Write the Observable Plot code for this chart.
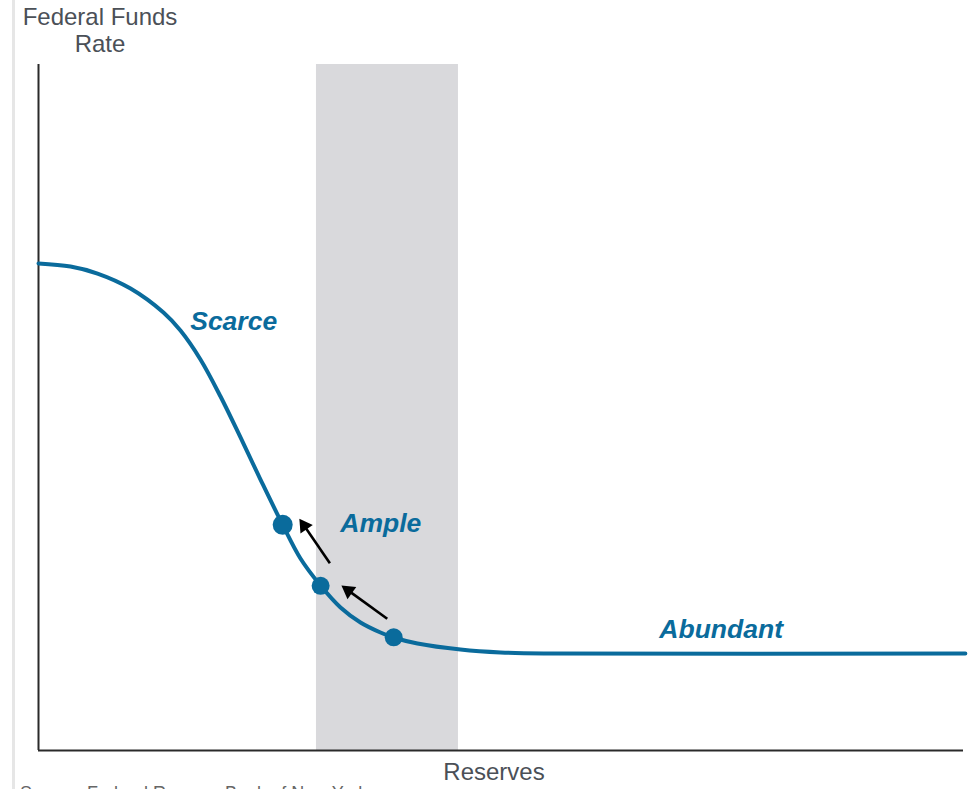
<!DOCTYPE html>
<html>
<head>
<meta charset="utf-8">
<script src="https://cdn.jsdelivr.net/npm/d3@7"></script>
<script src="https://cdn.jsdelivr.net/npm/@observablehq/plot@0.6"></script>
<style>
  html, body { margin: 0; padding: 0; background: #fff; overflow: hidden; }
  body { width: 977px; height: 789px; position: relative; font-family: "Liberation Sans", Arial, sans-serif; }
  #bar { position: absolute; left: 12px; top: 0; width: 3px; height: 789px; background: #e6e6e6; }
  #chart { position: absolute; left: 0; top: 0; }
  #title { position: absolute; left: 0px; top: 3px; width: 200px; text-align: center; font-size: 24px; line-height: 27px; color: #4b5057; }
  #xlabel { position: absolute; left: 394px; width: 200px; top: 758px; text-align: center; font-size: 24px; color: #4b5057; }
  #caption { position: absolute; left: 20px; top: 783px; font-size: 18px; color: #666; white-space: nowrap; }
</style>
</head>
<body>
<div id="bar"></div>
<div id="chart"></div>
<div id="title">Federal Funds<br>Rate</div>
<div id="xlabel">Reserves</div>
<div id="caption">Source: Federal Reserve Bank of New York</div>
<script>
// Demand curve for reserves (x: reserves, y: federal funds rate)
const curveX = [0, 3.46, 6.38, 9.95, 13.51, 15.35, 17.51, 19.68, 21.84, 24.0, 26.38, 28.32, 30.49, 32.65, 34.81, 36.97, 38.38, 40.97, 45.62, 49.95, 55.35, 100.2];
const curveY = [71.0, 70.55, 69.53, 67.35, 63.85, 61.22, 57.0, 51.6, 45.63, 39.5, 32.94, 27.99, 24.05, 20.85, 18.66, 17.2, 16.47, 15.6, 14.72, 14.29, 14.14, 14.14];

// Ample region shading
const bandX1 = [30.05];
const bandX2 = [45.4];

// Points on the curve
const pointX = [26.4, 30.5, 38.4];
const pointY = [32.9, 24.0, 16.5];
const pointR = [10, 9, 9];

// Arrows (start -> tip)
const arrowX1 = [31.5, 37.7];
const arrowY1 = [27.3, 19.2];
const arrowX2 = [28.2, 32.75];
const arrowY2 = [33.8, 24.05];

// Region labels
const labelText = ["Scarce", "Ample", "Abundant"];
const labelX = [21.1, 37.0, 73.8];
const labelY = [62.5, 33.1, 17.6];

const W = 977, H = 789;
const mL = 38, mR = 14, mT = 64, mB = 39;
const sx = d3.scaleLinear([0, 100], [mL, W - mR]);
const sy = d3.scaleLinear([0, 100], [H - mB, mT]);

const blue = "#0a6b9c";
const curve = curveX.map((x, i) => ({x, y: curveY[i]}));
const band = bandX1.map((x1, i) => ({x1, x2: bandX2[i]}));
const points = pointX.map((x, i) => ({x, y: pointY[i], r: pointR[i]}));
const labels = labelText.map((t, i) => ({t, x: labelX[i], y: labelY[i]}));

// arrowheads: equilateral triangle whose tip sits on the arrow end
const hy = 4.3; // d3 triangle half-unit
const arrows = arrowX1.map((x1, i) => {
  const px1 = sx(x1), py1 = sy(arrowY1[i]), px2 = sx(arrowX2[i]), py2 = sy(arrowY2[i]);
  const dx = px2 - px1, dy = py2 - py1, len = Math.hypot(dx, dy);
  const ux = dx / len, uy = dy / len;
  const cx = px2 - ux * 2 * hy, cy = py2 - uy * 2 * hy;
  const ex = px2 - ux * 2.5 * hy, ey = py2 - uy * 2.5 * hy;
  return {
    x1, y1: arrowY1[i],
    sx2: sx.invert(ex), sy2: sy.invert(ey),
    cx: sx.invert(cx), cy: sy.invert(cy),
    rot: Math.atan2(dx, -dy) * 180 / Math.PI
  };
});
const triR = Math.sqrt(hy * hy * Math.sqrt(3) * 3 / Math.PI);

const chart = Plot.plot({
  width: W,
  height: H,
  marginLeft: mL, marginRight: mR, marginTop: mT, marginBottom: mB,
  x: {domain: [0, 100], axis: null},
  y: {domain: [0, 100], axis: null},
  r: {type: "identity"},
  style: {background: "transparent", fontFamily: "'Liberation Sans', Arial, sans-serif"},
  marks: [
    Plot.rect(band, {x1: "x1", x2: "x2", y1: 0, y2: 100, fill: "#d9d9dc"}),
    Plot.ruleX([0], {y1: 0, y2: 100, stroke: "#2a2a2a", strokeWidth: 2}),
    Plot.ruleY([0], {x1: 0, x2: 100, stroke: "#2a2a2a", strokeWidth: 2}),
    Plot.line(curve, {x: "x", y: "y", stroke: blue, strokeWidth: 4, curve: "catmull-rom"}),
    Plot.dot(points, {x: "x", y: "y", r: "r", fill: blue, stroke: "none"}),
    Plot.link(arrows, {x1: "x1", y1: "y1", x2: "sx2", y2: "sy2", stroke: "#000", strokeWidth: 2.6}),
    Plot.dot(arrows, {x: "cx", y: "cy", symbol: "triangle", r: triR, rotate: "rot", fill: "#000", stroke: "none"}),
    Plot.text(labels, {x: "x", y: "y", text: "t", fill: blue, fontSize: 26.5, fontWeight: "bold", fontStyle: "italic", textAnchor: "middle"})
  ]
});
document.getElementById("chart").appendChild(chart);
</script>
</body>
</html>
